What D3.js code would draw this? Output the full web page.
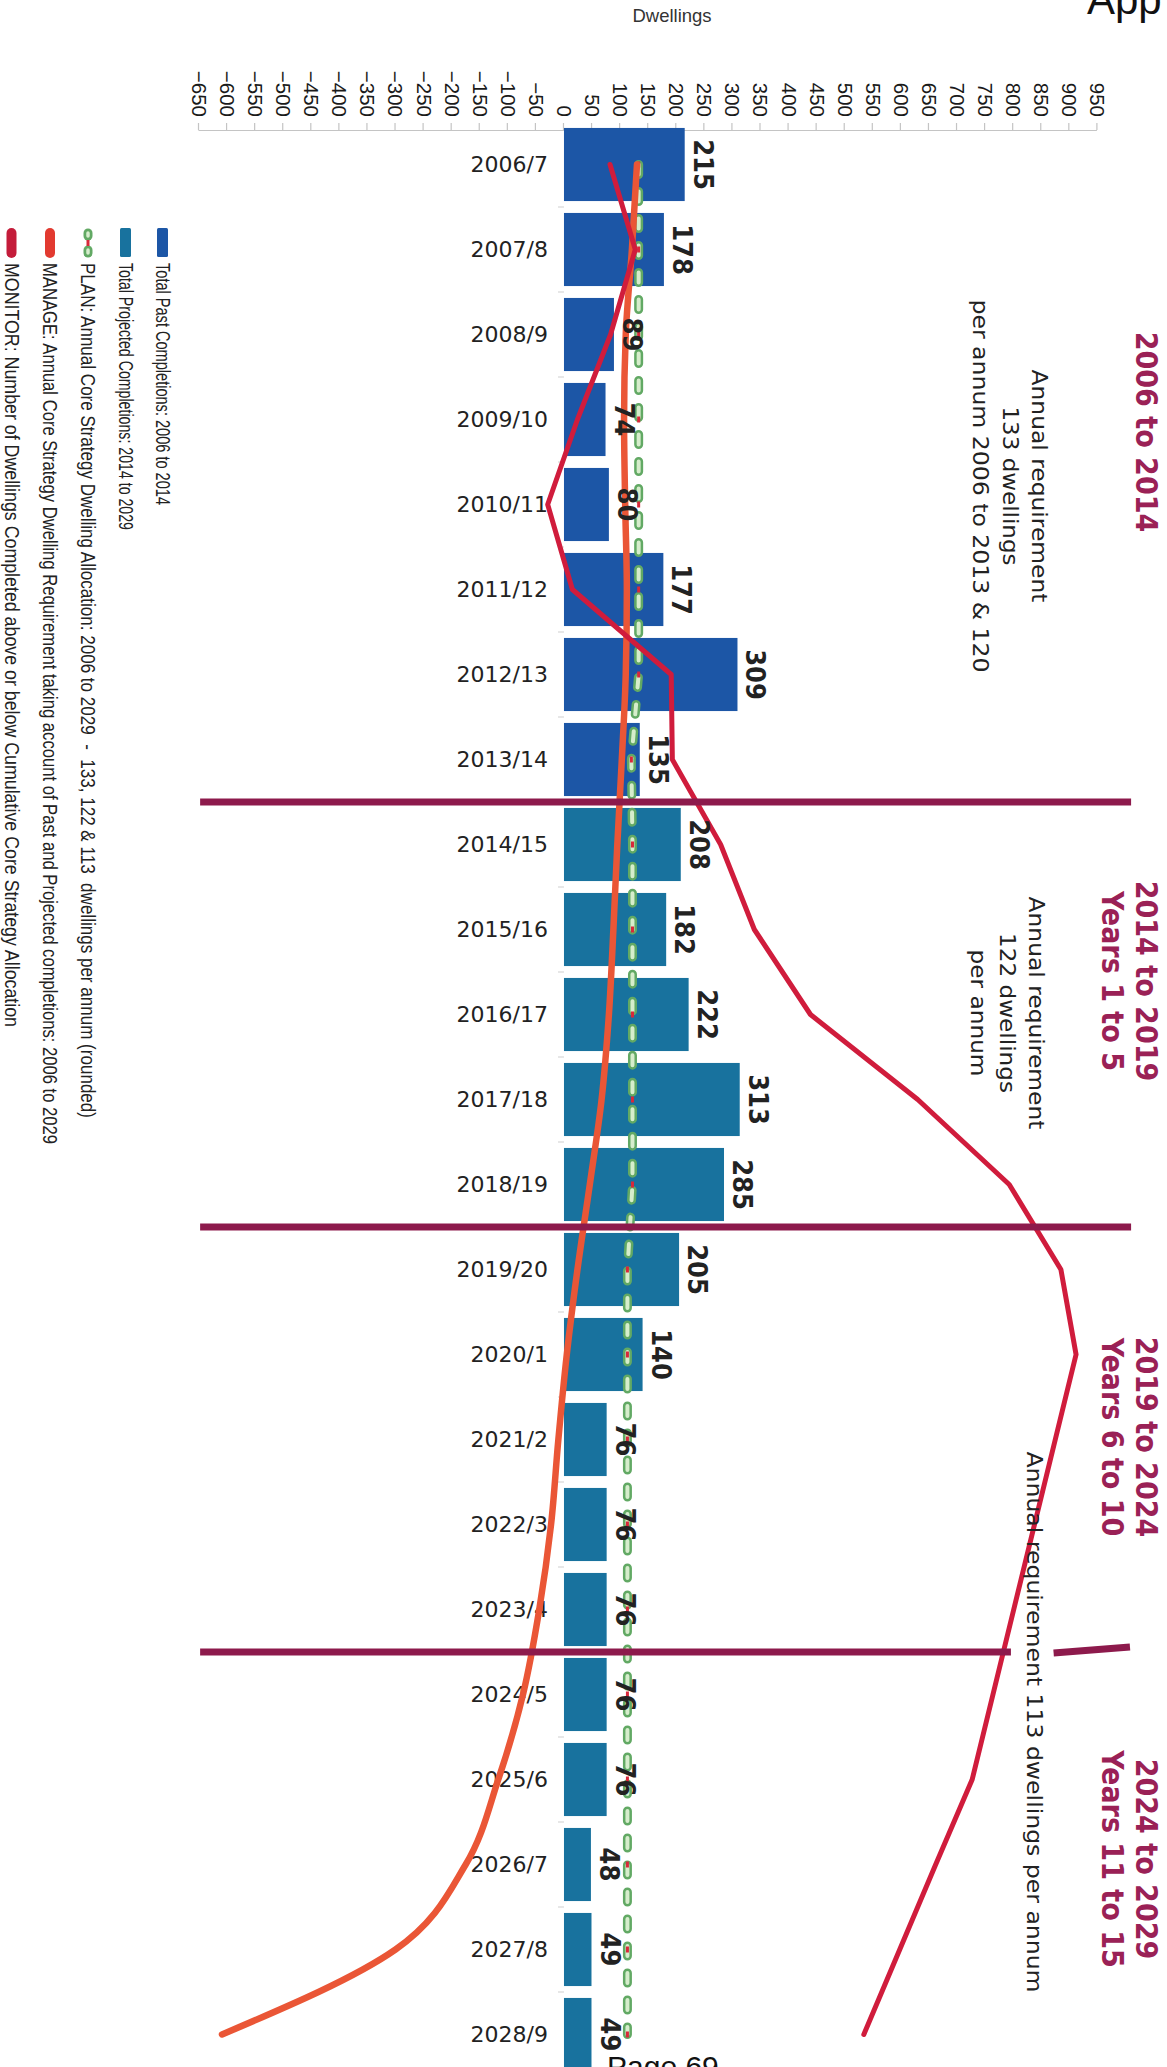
<!DOCTYPE html>
<html>
<head>
<meta charset="utf-8">
<script src="https://cdn.jsdelivr.net/npm/d3@7"></script>
<style>
  html, body { margin: 0; padding: 0; background: #fff; }
  svg { display: block; }
  text { white-space: pre; }
</style>
</head>
<body>
<script>
// ---- data -------------------------------------------------------------
const categories = ["2006/7","2007/8","2008/9","2009/10","2010/11","2011/12","2012/13","2013/14",
  "2014/15","2015/16","2016/17","2017/18","2018/19","2019/20","2020/1","2021/2","2022/3","2023/4",
  "2024/5","2025/6","2026/7","2027/8","2028/9"];

// completions 2006/7 - 2013/14
const pastCompletions = [215, 178, 89, 74, 80, 177, 309, 135];
// projected completions 2014/15 - 2028/9
const projectedCompletions = [208, 182, 222, 313, 285, 205, 140, 76, 76, 76, 76, 76, 48, 49, 49];

// PLAN: annual core strategy allocation
const planAllocation = [133, 133, 133, 133, 133, 133, 133, 120, 122, 122, 122, 122, 122,
  113, 113, 113, 113, 113, 113, 113, 113, 113, 113];
// MANAGE: annual requirement after past and projected completions
const manageRequirement = [130, 121, 110, 107, 109, 112, 110, 103, 95, 88, 80, 67, 46,
  24, 5, -10, -23, -44, -73, -117, -175, -300, -609];
// MONITOR: cumulative completions above / below allocation
const monitorCumulative = [82, 127, 83, 24, -29, 15, 191, 193, 279, 339, 439, 630, 793,
  885, 912, 875, 838, 801, 764, 727, 662, 598, 534];

const valueTicks = [-650, -600, -550, -500, -450, -400, -350, -300, -250, -200, -150, -100, -50,
  0, 50, 100, 150, 200, 250, 300, 350, 400, 450, 500, 550, 600, 650, 700, 750, 800, 850, 900, 950];

// the category after each phase break
const phaseBreaks = ["2014/15", "2019/20", "2024/5"];

const phaseTitles = [
  ["2006 to 2014"],
  ["2014 to 2019", "Years 1 to 5"],
  ["2019 to 2024", "Years 6 to 10"],
  ["2024 to 2029", "Years 11 to 15"]
];
const requirementNotes = [
  ["Annual requirement", "133 dwellings", "per annum 2006 to 2013 & 120"],
  ["Annual requirement", "122 dwellings", "per annum"],
  ["Annual requirement 113 dwellings per annum"]
];

const legendItems = [
  { key: "past", label: "Total Past Completions: 2006 to 2014" },
  { key: "projected", label: "Total Projected Completions: 2014 to 2029" },
  { key: "plan", label: "PLAN: Annual Core Strategy Dwelling Allocation: 2006 to 2029  -  133, 122 & 113  dwellings per annum (rounded)" },
  { key: "manage", label: "MANAGE: Annual Core Strategy Dwelling Requirement taking account of Past and Projected completions: 2006 to 2029" },
  { key: "monitor", label: "MONITOR: Number of Dwellings Completed above or below Cumulative Core Strategy Allocation" }
];

// ---- styling ----------------------------------------------------------
const COL = {
  past: "#1c56a6",
  projected: "#18729e",
  planOuter: "#62a964",
  planInner: "#d6edcc",
  planMark: "#d8283a",
  manage: "#ea5636",
  monitor: "#d01c3c",
  divider: "#8d1a4c",
  title: "#9a2156",
  text: "#222"
};
const SANS = "'DejaVu Sans', Verdana, sans-serif";
const COND_BOLD = "'DejaVu Sans Condensed', 'DejaVu Sans', sans-serif";
const NARROW = "'Liberation Sans Narrow', 'Liberation Sans', Arial, sans-serif";

// ---- page & frame -----------------------------------------------------
const W = 1167, H = 2067;
const svg = d3.select("body").append("svg").attr("width", W).attr("height", H);

// The chart is built as an ordinary column chart in a frame H wide and W tall,
// then turned a quarter turn clockwise onto the page.
const g = svg.append("g").attr("transform", `translate(${W},0) rotate(90)`);

const x = d3.scaleBand().domain(categories).range([122, 2077]).paddingInner(0.14).paddingOuter(0.07);
const y = d3.scaleLinear().domain([-650, 950]).range([968, 69.6]);
const bw = x.bandwidth();
const cx = d => x(d) + bw / 2;

const rows = categories.map((c, i) => ({
  cat: c,
  value: i < pastCompletions.length ? pastCompletions[i] : projectedCompletions[i - pastCompletions.length],
  series: i < pastCompletions.length ? "past" : "projected",
  plan: planAllocation[i],
  manage: manageRequirement[i],
  monitor: monitorCumulative[i]
}));

// value axis
const axis = g.append("g")
  .attr("transform", "translate(130,0)")
  .call(d3.axisLeft(y).tickValues(valueTicks).tickSize(7).tickSizeOuter(0).tickPadding(6));
axis.select(".domain").attr("stroke", "#c4c4c4").attr("stroke-width", 1.2);
axis.selectAll(".tick line").attr("stroke", "#c4c4c4").attr("stroke-width", 1.2);
axis.selectAll(".tick text")
  .attr("font-family", NARROW).attr("font-size", 20.5).attr("fill", "#1a1a1a");

// category ticks at band edges
g.append("g").selectAll("line")
  .data(categories.slice(1))
  .join("line")
  .attr("x1", d => x(d) - x.step() * x.paddingInner() / 2)
  .attr("x2", d => x(d) - x.step() * x.paddingInner() / 2)
  .attr("y1", y(0)).attr("y2", y(0) + 6)
  .attr("stroke", "#cfcfcf").attr("stroke-width", 1);

// category labels (upright on the page)
g.append("g").selectAll("text")
  .data(categories)
  .join("text")
  .attr("transform", d => `translate(${cx(d)},619) rotate(-90)`)
  .attr("text-anchor", "end")
  .attr("dy", "0.36em")
  .attr("font-family", SANS).attr("font-size", 22).attr("fill", COL.text)
  .text(d => d);

// bars
g.append("g").selectAll("rect")
  .data(rows)
  .join("rect")
  .attr("x", d => x(d.cat))
  .attr("width", bw)
  .attr("y", d => y(Math.max(0, d.value)))
  .attr("height", d => Math.abs(y(d.value) - y(0)))
  .attr("fill", d => COL[d.series]);

// PLAN dashed line with markers
const planLine = d3.line().x(d => cx(d.cat)).y(d => y(d.plan));
g.append("path").datum(rows).attr("d", planLine)
  .attr("fill", "none").attr("stroke", COL.planOuter).attr("stroke-width", 9)
  .attr("stroke-linecap", "round").attr("stroke-dasharray", "10 17");
g.append("path").datum(rows).attr("d", planLine)
  .attr("fill", "none").attr("stroke", COL.planInner).attr("stroke-width", 4)
  .attr("stroke-linecap", "round").attr("stroke-dasharray", "10 17");
g.append("g").selectAll("rect")
  .data(rows)
  .join("rect")
  .attr("x", d => cx(d.cat) - 3).attr("width", 6)
  .attr("y", d => y(d.plan) - 1.5).attr("height", 3)
  .attr("fill", COL.planMark);

// MANAGE line (smoothed)
g.append("path").datum(rows)
  .attr("d", d3.line().x(d => cx(d.cat)).y(d => y(d.manage)).curve(d3.curveMonotoneX))
  .attr("fill", "none").attr("stroke", COL.manage).attr("stroke-width", 6.5)
  .attr("stroke-linecap", "round").attr("stroke-linejoin", "round");

// MONITOR line
g.append("path").datum(rows)
  .attr("d", d3.line().x(d => cx(d.cat)).y(d => y(d.monitor)))
  .attr("fill", "none").attr("stroke", COL.monitor).attr("stroke-width", 5)
  .attr("stroke-linecap", "round").attr("stroke-linejoin", "round");

// value labels
g.append("g").selectAll("text")
  .data(rows)
  .join("text")
  .attr("x", d => cx(d.cat))
  .attr("y", d => y(d.value) - 9)
  .attr("text-anchor", "middle")
  .attr("font-family", COND_BOLD).attr("font-stretch", "condensed")
  .attr("font-weight", "bold").attr("font-size", 27).attr("fill", COL.text)
  .text(d => d.value);

// phase dividers
const breakX = c => x(c) - x.step() * x.paddingInner() / 2;
const dividers = g.append("g").attr("stroke", COL.divider).attr("stroke-width", 7);
phaseBreaks.forEach((c, i) => {
  const top = i === 2 ? 796 : 1010;
  dividers.append("line")
    .attr("x1", breakX(c)).attr("x2", breakX(c))
    .attr("y1", y(-648)).attr("y2", y(top));
});
// short tail stroke beyond the last divider
dividers.append("line")
  .attr("x1", breakX(phaseBreaks[2]) + 1).attr("y1", y(872))
  .attr("x2", breakX(phaseBreaks[2]) - 5).attr("y2", y(1008));

// phase titles
const titleCenters = [432, 981, 1437, 1859];
phaseTitles.forEach((lines, i) => {
  lines.forEach((t, j) => {
    g.append("text")
      .attr("x", titleCenters[i]).attr("y", 31 + j * 34)
      .attr("text-anchor", "middle")
      .attr("font-family", COND_BOLD).attr("font-stretch", "condensed")
      .attr("font-weight", "bold").attr("font-size", 30)
      .attr("fill", COL.title)
      .text(t);
  });
});

// requirement notes
const noteLayout = [
  { cx: 486, base: [135, 164.5, 194.5], len: [233, 159, 373] },
  { cx: 1013, base: [138, 167, 196], len: [233, 160, 127] },
  { cx: 1722, base: [140], len: [541] }
];
requirementNotes.forEach((lines, i) => {
  const L = noteLayout[i];
  lines.forEach((t, j) => {
    g.append("text")
      .attr("x", L.cx).attr("y", L.base[j])
      .attr("text-anchor", "middle")
      .attr("font-family", SANS).attr("font-size", 21).attr("fill", COL.text)
      .attr("textLength", L.len[j]).attr("lengthAdjust", "spacingAndGlyphs")
      .text(t);
  });
});

// legend
const legendRowY = [1004.5, 1041.5, 1079, 1117, 1155.5];
const legendLen = [242, 267, 855, 881, 764];
const lg = g.append("g");
legendItems.forEach((it, i) => {
  const cy = legendRowY[i];
  const row = lg.append("g");
  if (it.key === "past" || it.key === "projected") {
    row.append("rect").attr("x", 228).attr("y", cy - 5.5).attr("width", 29).attr("height", 11)
      .attr("rx", 1.5).attr("fill", COL[it.key]);
  } else if (it.key === "plan") {
    [[229, 240], [246, 257]].forEach(([a, b]) => {
      row.append("line").attr("x1", a + 4).attr("x2", b - 4).attr("y1", cy).attr("y2", cy)
        .attr("stroke", COL.planOuter).attr("stroke-width", 9).attr("stroke-linecap", "round");
      row.append("line").attr("x1", a + 4).attr("x2", b - 4).attr("y1", cy).attr("y2", cy)
        .attr("stroke", COL.planInner).attr("stroke-width", 3.5).attr("stroke-linecap", "round");
    });
    row.append("rect").attr("x", 240).attr("y", cy - 1.5).attr("width", 6).attr("height", 3)
      .attr("fill", COL.planMark);
  } else {
    row.append("line").attr("x1", 233).attr("x2", 253).attr("y1", cy).attr("y2", cy)
      .attr("stroke", it.key === "manage" ? "#e23a30" : "#c41c3a")
      .attr("stroke-width", 10).attr("stroke-linecap", "round");
  }
  row.append("text")
    .attr("x", 263).attr("y", cy).attr("dy", "0.35em")
    .attr("font-family", NARROW).attr("font-size", 20).attr("fill", "#222")
    .attr("textLength", legendLen[i]).attr("lengthAdjust", "spacingAndGlyphs")
    .text(it.label);
});

// ---- page furniture (upright) ----------------------------------------
svg.append("text")
  .attr("x", 672).attr("y", 22).attr("text-anchor", "middle")
  .attr("font-family", "'Liberation Sans', Arial, sans-serif").attr("font-size", 18.5).attr("fill", "#333")
  .text("Dwellings");

svg.append("text")
  .attr("x", 1087).attr("y", 14)
  .attr("font-family", "'Liberation Sans', Arial, sans-serif").attr("font-size", 42).attr("fill", "#111")
  .text("App");

svg.append("text")
  .attr("x", 607).attr("y", 2077)
  .attr("font-family", "'Liberation Sans', Arial, sans-serif").attr("font-size", 30).attr("fill", "#111")
  .text("Page 69");
</script>
</body>
</html>
